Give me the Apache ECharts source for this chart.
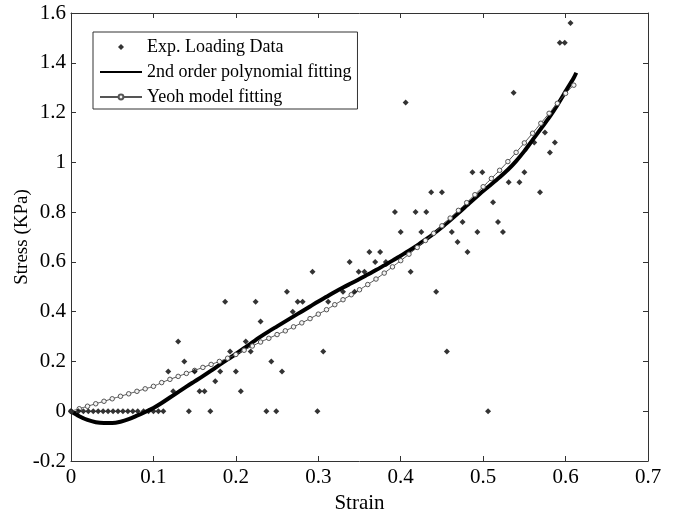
<!DOCTYPE html>
<html>
<head>
<meta charset="utf-8">
<script src="https://cdn.jsdelivr.net/npm/echarts@6/dist/echarts.min.js"></script>
<style>
html,body{margin:0;padding:0;background:#fff;}
#chart{width:678px;height:515px;}
</style>
</head>
<body>
<div id="chart"></div>
<script>
// ---- data ----
const expStrain = [0, 0.009, 0.015, 0.021, 0.027, 0.033, 0.039, 0.045, 0.051, 0.057, 0.063, 0.069, 0.075, 0.081, 0.088, 0.094, 0.100, 0.106, 0.112,
  0.118, 0.124, 0.130, 0.1375, 0.143, 0.150, 0.156, 0.162, 0.169, 0.175, 0.181, 0.187, 0.193, 0.200, 0.206, 0.212, 0.218, 0.224, 0.230,
  0.237, 0.243, 0.249, 0.256, 0.262, 0.269, 0.275, 0.281, 0.293, 0.299, 0.306, 0.312, 0.330, 0.338, 0.344, 0.349, 0.356, 0.362, 0.369,
  0.375, 0.382, 0.393, 0.400, 0.406, 0.412, 0.418, 0.425, 0.431, 0.437, 0.443, 0.450, 0.456, 0.462, 0.469, 0.475, 0.481, 0.487, 0.493,
  0.499, 0.506, 0.512, 0.518, 0.524, 0.531, 0.537, 0.544, 0.550, 0.562, 0.569, 0.575, 0.581, 0.587, 0.593, 0.599, 0.606];
const expStress = [0, 0, 0, 0, 0, 0, 0, 0, 0, 0, 0, 0, 0, 0, 0, 0, 0, 0, 0,
  0.16, 0.08, 0.28, 0.20, 0, 0.16, 0.08, 0.08, 0, 0.12, 0.16, 0.44, 0.24, 0.16, 0.08, 0.28, 0.24, 0.44, 0.36,
  0, 0.20, 0, 0.16, 0.48, 0.40, 0.44, 0.44, 0.56, 0, 0.24, 0.44, 0.48, 0.60, 0.48, 0.56, 0.56, 0.64, 0.60,
  0.64, 0.60, 0.80, 0.72, 1.24, 0.56, 0.80, 0.72, 0.80, 0.88, 0.48, 0.88, 0.24, 0.72, 0.68, 0.76, 0.64, 0.96, 0.72,
  0.96, 0, 0.84, 0.76, 0.72, 0.92, 1.28, 0.92, 0.96, 1.08, 0.88, 1.12, 1.04, 1.08, 1.48, 1.48, 1.56];

const polyStrain = [0, 0.01, 0.02, 0.03, 0.04, 0.05, 0.06, 0.07, 0.08, 0.09, 0.10, 0.11, 0.12, 0.13, 0.14, 0.15, 0.16, 0.17, 0.18, 0.19,
  0.20, 0.21, 0.22, 0.23, 0.24, 0.25, 0.26, 0.27, 0.28, 0.29, 0.30, 0.31, 0.32, 0.33, 0.34, 0.35, 0.36, 0.37, 0.38, 0.39,
  0.40, 0.41, 0.42, 0.43, 0.44, 0.45, 0.46, 0.47, 0.48, 0.49, 0.50, 0.51, 0.52, 0.53, 0.54, 0.55, 0.56, 0.57, 0.58, 0.59,
  0.60, 0.61, 0.613];
const polyStress = [0, -0.02, -0.035, -0.044, -0.047, -0.047, -0.042, -0.032, -0.018, -0.003, 0.013, 0.033, 0.055, 0.077, 0.099, 0.12, 0.141, 0.163, 0.186, 0.208,
  0.23, 0.253, 0.277, 0.30, 0.321, 0.341, 0.361, 0.381, 0.401, 0.421, 0.441, 0.46, 0.479, 0.497, 0.514, 0.531, 0.549, 0.567, 0.586, 0.605,
  0.625, 0.645, 0.666, 0.689, 0.713, 0.739, 0.767, 0.796, 0.826, 0.856, 0.885, 0.912, 0.94, 0.97, 1.005, 1.045, 1.09, 1.135, 1.18, 1.23,
  1.285, 1.34, 1.36];

const yeohStrain = [0, 0.01, 0.02, 0.03, 0.04, 0.05, 0.06, 0.07, 0.08, 0.09, 0.10, 0.11, 0.12, 0.13, 0.14, 0.15, 0.16, 0.17, 0.18, 0.19,
  0.20, 0.21, 0.22, 0.23, 0.24, 0.25, 0.26, 0.27, 0.28, 0.29, 0.30, 0.31, 0.32, 0.33, 0.34, 0.35, 0.36, 0.37, 0.38, 0.39,
  0.40, 0.41, 0.42, 0.43, 0.44, 0.45, 0.46, 0.47, 0.48, 0.49, 0.50, 0.51, 0.52, 0.53, 0.54, 0.55, 0.56, 0.57, 0.58, 0.59,
  0.60, 0.61];
const yeohStress = [0, 0.01, 0.02, 0.03, 0.04, 0.05, 0.06, 0.07, 0.08, 0.09, 0.10, 0.115, 0.128, 0.14, 0.152, 0.164, 0.176, 0.188, 0.20, 0.213,
  0.228, 0.245, 0.262, 0.278, 0.293, 0.308, 0.323, 0.339, 0.355, 0.372, 0.39, 0.408, 0.428, 0.448, 0.468, 0.488, 0.509, 0.531, 0.555, 0.58,
  0.605, 0.631, 0.658, 0.686, 0.715, 0.745, 0.776, 0.807, 0.838, 0.87, 0.902, 0.935, 0.968, 1.003, 1.04, 1.078, 1.117, 1.157, 1.197, 1.237,
  1.277, 1.31];

const xTicks = { min: 0, max: 0.7, step: 0.1 };
const yTicks = { min: -0.2, max: 1.6, step: 0.2 };
const seriesNames = ['Exp. Loading Data', '2nd order polynomial fitting', 'Yeoh model fitting'];
const xTitle = 'Strain';
const yTitle = 'Stress (KPa)';

// ---- build ----
const zip = (a, b) => a.map((v, i) => [v, b[i]]);
const FONT = 'Liberation Serif';
const AX = '#333';

const chart = echarts.init(document.getElementById('chart'), null, { renderer: 'canvas' });
const fmt = v => String(Math.round(v * 10) / 10);
const baseX = {
  type: 'value', min: xTicks.min, max: xTicks.max, interval: xTicks.step,
  axisLine: { show: true, onZero: false, lineStyle: { color: AX, width: 1 } },
  axisTick: { show: true, inside: true, length: 5, lineStyle: { color: AX } },
  splitLine: { show: false }
};
const baseY = {
  type: 'value', min: yTicks.min, max: yTicks.max, interval: yTicks.step,
  axisLine: { show: true, onZero: false, lineStyle: { color: AX, width: 1 } },
  axisTick: { show: true, inside: true, length: 5, lineStyle: { color: AX } },
  splitLine: { show: false }
};
chart.setOption({
  animation: false,
  backgroundColor: '#fff',
  grid: { left: 71, right: 30, top: 13, bottom: 54, containLabel: false, outerBoundsMode: 'none' },
  legend: {
    orient: 'vertical', left: 93, top: 32,
    backgroundColor: '#fff', borderColor: '#333', borderWidth: 1, borderRadius: 0,
    padding: [6, 6, 3, 6], itemWidth: 42, itemHeight: 6, itemGap: 7,
    symbolKeepAspect: true,
    textStyle: { fontFamily: FONT, fontSize: 18, color: '#000', lineHeight: 18 },
    data: [
      { name: seriesNames[0], icon: 'path://M0,-1L1,0L0,1L-1,0Z' },
      { name: seriesNames[1], itemStyle: { opacity: 0 } },
      { name: seriesNames[2] }
    ]
  },
  xAxis: [
    Object.assign({}, baseX, {
      position: 'bottom',
      name: xTitle, nameLocation: 'middle', nameGap: 32, nameMoveOverlap: false,
      nameTextStyle: { fontFamily: FONT, fontSize: 21, color: '#000' },
      axisLabel: { show: true, margin: 6, fontFamily: FONT, fontSize: 21, color: '#000', formatter: fmt }
    }),
    Object.assign({}, baseX, { position: 'top', axisLabel: { show: false } })
  ],
  yAxis: [
    Object.assign({}, baseY, {
      position: 'left',
      name: yTitle, nameLocation: 'middle', nameGap: 39, nameMoveOverlap: false,
      nameTextStyle: { fontFamily: FONT, fontSize: 19, color: '#000' },
      axisLabel: { show: true, margin: 5, fontFamily: FONT, fontSize: 21, color: '#000', formatter: fmt }
    }),
    Object.assign({}, baseY, { position: 'right', axisLabel: { show: false } })
  ],
  series: [
    {
      name: seriesNames[0], type: 'scatter', xAxisIndex: 0, yAxisIndex: 0,
      data: zip(expStrain, expStress),
      symbol: 'diamond', symbolSize: 6,
      itemStyle: { color: '#000' }, z: 5
    },
    {
      name: seriesNames[1], type: 'line', xAxisIndex: 0, yAxisIndex: 0,
      data: zip(polyStrain, polyStress),
      symbol: 'none', smooth: 0.3,
      lineStyle: { color: '#000', width: 4 },
      itemStyle: { color: '#000' }, z: 3
    },
    {
      name: seriesNames[2], type: 'line', xAxisIndex: 0, yAxisIndex: 0,
      data: zip(yeohStrain, yeohStress),
      symbol: 'circle', symbolSize: 4.5, showSymbol: true, smooth: 0.3,
      lineStyle: { color: '#555', width: 1 },
      itemStyle: { color: '#f4f4f4', borderColor: '#555', borderWidth: 1 }, z: 4
    }
  ]
});
</script>
</body>
</html>
